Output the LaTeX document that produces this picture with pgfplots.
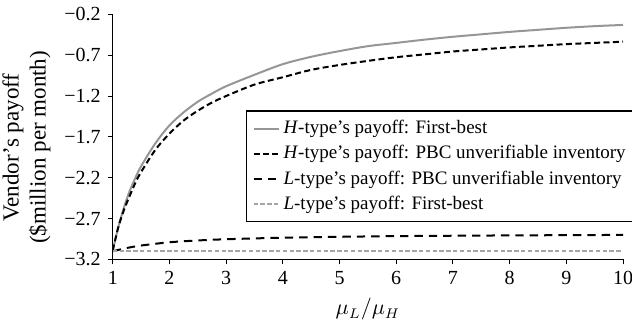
\documentclass[border=0pt]{standalone}
\usepackage{fontspec}
\setmainfont{Liberation Serif}
\usepackage{pgfplots}
\pgfplotsset{compat=1.18}
\definecolor{hgray}{RGB}{150,150,150}
\definecolor{lgray}{RGB}{165,165,165}
\begin{document}
\begin{tikzpicture}
\begin{axis}[
  name=a,
  scale only axis, width=255pt, height=122.5pt,
  xmin=1, xmax=10, ymin=-3.2, ymax=-0.2,
  axis x line=bottom, axis y line=left,
  axis line style={-, line width=0.6pt},
  tick align=outside, major tick length=2.5pt,
  tick style={black, line width=0.5pt},
  xtick={1,2,...,10},
  ytick={-3.2,-2.7,-2.2,-1.7,-1.2,-0.7,-0.2},
  yticklabels={−3.2,−2.7,−2.2,−1.7,−1.2,−0.7,−0.2},
  /pgf/number format/assume math mode=true,
  xlabel={$\mu_L/\mu_H$},
  xlabel style={font=\fontsize{10.5}{12.5}\selectfont, at={(axis description cs:0.5,0)}, anchor=north, yshift=-16pt},
  ylabel={Vendor’s payoff\\(\$million per month)},
  ylabel style={align=center, font=\fontsize{11.5}{13.5}\selectfont, at={(ticklabel cs:0.457)}},
  legend style={at={(axis description cs:0.261,0.608)}, anchor=north west,
    draw=black, line width=0.6pt, fill=white, font=\fontsize{9.5}{11}\selectfont,
    legend cell align=left, inner xsep=3pt, inner ysep=2.5pt,
    nodes={inner ysep=2.2pt}},
  legend image code/.code={\draw[#1] (0cm,0cm) -- (0.44cm,0cm);},
]
\addplot[hgray, line width=1pt, smooth] coordinates {
(1,-3.09) (1.1,-2.80) (1.2,-2.56) (1.3,-2.36) (1.4,-2.20) (1.5,-2.06)
(1.75,-1.78) (2,-1.56) (2.25,-1.40) (2.5,-1.27) (2.75,-1.17) (3,-1.08)
(3.5,-0.94) (4,-0.81) (4.5,-0.72) (5,-0.65) (5.5,-0.59) (6,-0.55)
(6.5,-0.51) (7,-0.475) (7.5,-0.445) (8,-0.415) (8.5,-0.39) (9,-0.365)
(9.5,-0.345) (10,-0.33)};
\addlegendentry{\textit{H}-type’s payoff: First-best}
\addplot[black, line width=1pt, dash pattern=on 3pt off 1.7pt, smooth] coordinates {
(1,-3.09) (1.1,-2.80) (1.2,-2.59) (1.3,-2.42) (1.4,-2.26) (1.5,-2.13)
(1.75,-1.86) (2,-1.66) (2.25,-1.50) (2.5,-1.38) (2.75,-1.28) (3,-1.20)
(3.5,-1.06) (4,-0.97) (4.5,-0.88) (5,-0.82) (5.5,-0.77) (6,-0.725)
(6.5,-0.69) (7,-0.655) (7.5,-0.63) (8,-0.605) (8.5,-0.585) (9,-0.565)
(9.5,-0.55) (10,-0.535)};
\addlegendentry{\textit{H}-type’s payoff: PBC unverifiable inventory}
\addplot[black, line width=1pt, dash pattern=on 4.2pt off 3pt, smooth] coordinates {
(1,-3.10) (1.25,-3.06) (1.5,-3.03) (2,-2.99) (2.5,-2.968) (3,-2.953)
(4,-2.934) (5,-2.923) (6,-2.915) (7,-2.910) (8,-2.906) (9,-2.903) (10,-2.90)};
\addlegendentry{\textit{L}-type’s payoff: PBC unverifiable inventory}
\addplot[lgray, line width=1pt, dash pattern=on 2.2pt off 1.2pt] coordinates {
(1,-3.10) (10,-3.10)};
\addlegendentry{\textit{L}-type’s payoff: First-best}
\end{axis}
\pgfresetboundingbox
\path[use as bounding box] ([shift={(-56.35pt,-30.5pt)}]a.south west) rectangle ([shift={(4.5pt,7.15pt)}]a.north east);
\end{tikzpicture}
\end{document}
